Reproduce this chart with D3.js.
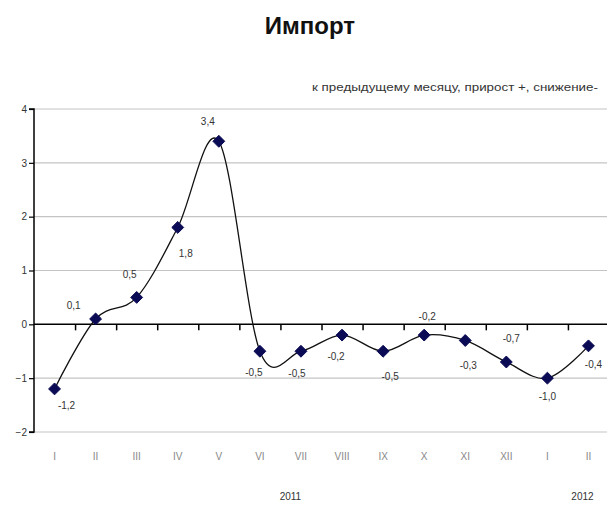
<!DOCTYPE html>
<html><head><meta charset="utf-8">
<script src="https://cdn.jsdelivr.net/npm/d3@7/dist/d3.min.js"></script>
<style>body{margin:0;background:#fff}</style>
</head><body>
<svg id="c" width="607" height="505"></svg>
<script>
const months = ["I","II","III","IV","V","VI","VII","VIII","IX","X","XI","XII","I","II"];
const values = [-1.2, 0.1, 0.5, 1.8, 3.4, -0.5, -0.5, -0.2, -0.5, -0.2, -0.3, -0.7, -1.0, -0.4];
const yTicks = [-2, -1, 0, 1, 2, 3, 4];
const years = [{label:"2011", from:0, to:11}, {label:"2012", from:12, to:13}];
const title = "Импорт";
const subtitle = "к предыдущему месяцу, прирост +, снижение-";
// label offsets (layout only)
const labelOffsets = [[12,16],[-22,-14],[-7,-23],[8,26],[-11,-20],[-6,21],[-4,22],[-6,21],[7,25],[3,-19],[3,25],[5,-24],[0,18],[5,18]];

const svg = d3.select("#c");
const pLeft = 34, pRight = 609, pTop = 109, pBottom = 432;
const x = d3.scaleBand().domain(d3.range(months.length)).range([pLeft, pRight]);
const y = d3.scaleLinear().domain([-2, 4]).range([pBottom, pTop]);
const cx = i => x(i) + x.bandwidth()/2;

svg.append("text").attr("x", 310).attr("y", 34).attr("text-anchor","middle")
  .attr("font-family","Liberation Sans, Arial, sans-serif").attr("font-weight","bold")
  .attr("font-size", 24).attr("fill","#111").text(title);
svg.append("text").attr("x", 598).attr("y", 91).attr("text-anchor","end")
  .attr("font-family","Liberation Sans Narrow, Liberation Sans, Arial, sans-serif")
  .attr("font-size", 11).attr("fill","#333").attr("textLength", 286).attr("lengthAdjust","spacingAndGlyphs").text(subtitle);

// gridlines
svg.append("g").selectAll("line").data(yTicks.filter(d => d !== 0)).join("line")
  .attr("x1", pLeft).attr("x2", 607).attr("y1", d => y(d)).attr("y2", d => y(d))
  .attr("stroke", "#c4c4c4").attr("stroke-width", 1.2);

// y axis
const yAxis = d3.axisLeft(y).tickValues(yTicks).tickSize(5).tickFormat(d3.format("d"));
const ya = svg.append("g").attr("transform", `translate(${pLeft},0)`).call(yAxis);
ya.select(".domain").attr("stroke","#000").attr("stroke-width",1.5).attr("d", `M-5,${pTop}H0V${pBottom}H-5`);
ya.selectAll(".tick line").attr("stroke","#000").attr("stroke-width",1.2);
ya.selectAll(".tick text").attr("font-family","Liberation Sans, Arial, sans-serif").attr("font-size",10).attr("fill","#333").attr("x",-7);

// zero line with category ticks
const zx = d3.axisBottom(d3.scaleLinear().domain([0, months.length]).range([pLeft, pRight]))
  .tickValues(d3.range(1, months.length)).tickSize(6).tickFormat("");
const za = svg.append("g").attr("transform", `translate(0,${y(0)})`).call(zx);
za.select(".domain").attr("stroke","#000").attr("stroke-width",1.5).attr("d", `M${pLeft},0H607`);
za.selectAll(".tick line").attr("stroke","#000").attr("stroke-width",1.5);

// category labels
svg.append("g").selectAll("text").data(months).join("text")
  .attr("x", (d,i) => cx(i)).attr("y", 460).attr("text-anchor","middle")
  .attr("font-family","Liberation Sans Narrow, Liberation Sans, Arial, sans-serif").attr("font-size",10).attr("fill","#888").text(d => d);

// year labels
svg.append("g").selectAll("text").data(years).join("text")
  .attr("x", d => d.label === "2011" ? (cx(d.from)+cx(d.to))/2 + 10 : cx(d.to) - 6)
  .attr("y", 500).attr("text-anchor","middle")
  .attr("font-family","Liberation Sans, Arial, sans-serif").attr("font-size",10).attr("fill","#333").text(d => d.label);

// line
const line = d3.line().x((d,i) => cx(i)).y(d => y(d)).curve(d3.curveCardinal.tension(0));
svg.append("path").datum(values).attr("d", line).attr("fill","none").attr("stroke","#111").attr("stroke-width",1.3);

// markers
svg.append("g").selectAll("path").data(values).join("path")
  .attr("d", d3.symbol(d3.symbolDiamond2, 90))
  .attr("transform", (d,i) => `translate(${cx(i)},${y(d)})`)
  .attr("fill","#0a0a55").attr("stroke","#0a0a55").attr("stroke-width",1);

// value labels
const fmt = v => v.toFixed(1).replace(".", ",");
svg.append("g").selectAll("text").data(values).join("text")
  .attr("x", (d,i) => cx(i) + labelOffsets[i][0]).attr("y", (d,i) => y(d) + labelOffsets[i][1] + 4)
  .attr("text-anchor","middle")
  .attr("font-family","Liberation Sans Narrow, Liberation Sans, Arial, sans-serif").attr("font-size",10).attr("fill","#333")
  .text(d => fmt(d));
</script>
</body></html>
